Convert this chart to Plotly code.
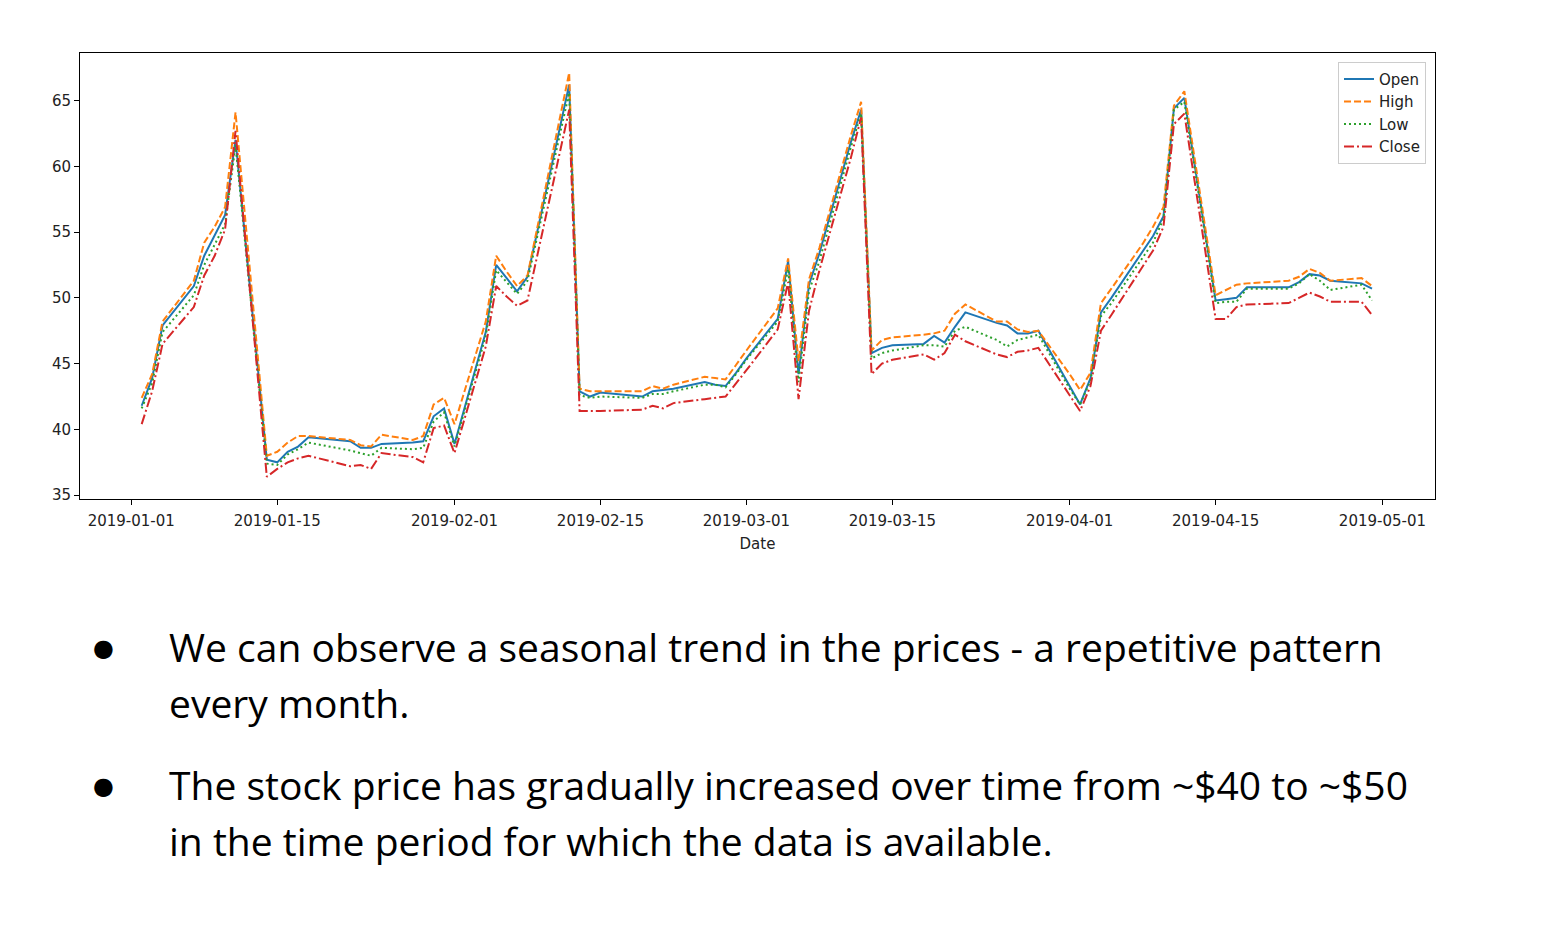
import plotly.graph_objects as go

W, H = 1560, 932

dates = [
    "2019-01-02", "2019-01-03", "2019-01-04", "2019-01-07", "2019-01-08", "2019-01-09", "2019-01-10", "2019-01-11",
    "2019-01-14", "2019-01-15", "2019-01-16", "2019-01-17", "2019-01-18", "2019-01-22", "2019-01-23", "2019-01-24",
    "2019-01-25", "2019-01-28", "2019-01-29", "2019-01-30", "2019-01-31", "2019-02-01", "2019-02-04", "2019-02-05",
    "2019-02-06", "2019-02-07", "2019-02-08", "2019-02-11", "2019-02-12", "2019-02-13", "2019-02-14", "2019-02-15",
    "2019-02-19", "2019-02-20", "2019-02-21", "2019-02-22", "2019-02-25", "2019-02-26", "2019-02-27", "2019-02-28",
    "2019-03-01", "2019-03-04", "2019-03-05", "2019-03-06", "2019-03-07", "2019-03-08", "2019-03-11", "2019-03-12",
    "2019-03-13", "2019-03-14", "2019-03-15", "2019-03-18", "2019-03-19", "2019-03-20", "2019-03-21", "2019-03-22",
    "2019-03-25", "2019-03-26", "2019-03-27", "2019-03-28", "2019-03-29", "2019-04-01", "2019-04-02", "2019-04-03",
    "2019-04-04", "2019-04-05", "2019-04-08", "2019-04-09", "2019-04-10", "2019-04-11", "2019-04-12", "2019-04-15",
    "2019-04-16", "2019-04-17", "2019-04-18", "2019-04-22", "2019-04-23", "2019-04-24", "2019-04-25", "2019-04-26",
    "2019-04-29", "2019-04-30",
]

open_ = [
    41.8, 43.9, 47.9, 50.9, 53.2, 54.8, 56.3, 62.0,
    37.7, 37.5, 38.3, 38.7, 39.4, 39.1, 38.6, 38.6,
    38.9, 39.0, 39.1, 41.0, 41.6, 38.9, 47.4, 52.5,
    51.5, 50.5, 51.6, 62.6, 66.2, 42.9, 42.5, 42.8,
    42.5, 42.9, 43.0, 43.1, 43.6, 43.4, 43.3, 44.3,
    45.4, 48.4, 52.8, 44.2, 51.0, 53.4, 61.8, 64.3,
    45.8, 46.2, 46.4, 46.5, 47.1, 46.6, 47.8, 48.9,
    48.1, 47.9, 47.3, 47.3, 47.5, 43.3, 41.9, 43.9,
    48.9, 50.0, 53.5, 54.7, 56.2, 64.4, 65.2, 49.8,
    49.9, 50.0, 50.8, 50.8, 51.2, 51.8, 51.7, 51.3,
    51.1, 50.7,
]

high = [
    42.4, 44.2, 48.2, 51.3, 54.2, 55.4, 56.9, 64.1,
    38.0, 38.3, 39.0, 39.5, 39.5, 39.2, 38.8, 38.7,
    39.6, 39.2, 39.5, 41.9, 42.4, 40.4, 48.2, 53.2,
    52.0, 50.9, 51.7, 63.3, 67.1, 43.1, 42.9, 42.9,
    42.9, 43.3, 43.1, 43.4, 44.0, 43.9, 43.8, 44.9,
    46.0, 49.2, 53.0, 45.2, 51.4, 53.8, 62.3, 64.9,
    46.0, 46.8, 47.0, 47.2, 47.3, 47.5, 48.8, 49.5,
    48.2, 48.2, 47.6, 47.4, 47.5, 44.2, 43.0, 44.3,
    49.6, 50.7, 54.1, 55.4, 56.9, 64.6, 65.7, 50.2,
    50.6, 51.0, 51.1, 51.3, 51.6, 52.2, 51.9, 51.3,
    51.5, 50.9,
]

low = [
    41.6, 43.5, 47.4, 50.2, 52.5, 54.0, 55.6, 61.6,
    37.4, 37.3, 38.1, 38.5, 39.0, 38.4, 38.2, 38.0,
    38.6, 38.5, 38.6, 40.6, 41.3, 38.7, 47.1, 52.1,
    51.2, 50.3, 51.3, 62.0, 65.6, 42.6, 42.4, 42.5,
    42.4, 42.7, 42.7, 42.9, 43.4, 43.4, 43.2, 44.2,
    45.3, 48.2, 52.2, 43.6, 50.5, 52.8, 61.4, 64.0,
    45.4, 45.8, 46.0, 46.4, 46.4, 46.3, 47.5, 47.8,
    46.8, 46.3, 46.8, 47.0, 47.2, 43.1, 41.9, 43.7,
    48.6, 49.6, 53.0, 54.2, 56.0, 64.3, 64.9, 49.6,
    49.7, 49.7, 50.7, 50.7, 51.1, 51.8, 51.3, 50.6,
    51.0, 49.8,
]

close = [
    40.4, 42.9, 46.5, 49.3, 51.7, 53.2, 55.2, 62.7,
    36.4, 37.0, 37.5, 37.8, 38.0, 37.2, 37.3, 37.0,
    38.2, 37.9, 37.5, 40.1, 40.3, 38.2, 46.3, 50.9,
    50.1, 49.4, 49.8, 60.7, 64.3, 41.4, 41.4, 41.4,
    41.5, 41.8, 41.6, 42.0, 42.3, 42.4, 42.5, 43.5,
    44.5, 47.6, 51.2, 42.3, 49.0, 52.1, 60.6, 63.7,
    44.2, 45.0, 45.3, 45.7, 45.3, 45.8, 47.2, 46.7,
    45.7, 45.5, 45.9, 46.0, 46.2, 42.6, 41.4, 43.3,
    47.5, 48.7, 52.3, 53.6, 55.4, 63.2, 64.0, 48.4,
    48.4, 49.3, 49.5, 49.6, 50.0, 50.4, 50.1, 49.7,
    49.7, 48.7,
]

x_tick_vals = ["2019-01-01", "2019-01-15", "2019-02-01", "2019-02-15", "2019-03-01",
               "2019-03-15", "2019-04-01", "2019-04-15", "2019-05-01"]
y_tick_vals = [35, 40, 45, 50, 55, 60, 65]

bullet_lines = [
    ["We can observe a seasonal trend in the prices - a repetitive pattern", "every month."],
    ["The stock price has gradually increased over time from ~$40 to ~$50",
     "in the time period for which the data is available."],
]

series = [
    ("Open", open_, "#1f77b4", "solid"),
    ("High", high, "#ff7f0e", "7px,3px"),
    ("Low", low, "#2ca02c", "2px,3px"),
    ("Close", close, "#d62728", "10px,3px,2px,3px"),
]

fig = go.Figure()
for name, vals, color, dash in series:
    fig.add_trace(go.Scatter(
        x=dates, y=vals, name=name, mode="lines",
        line=dict(color=color, width=2, dash=dash),
    ))

# plot area in pixels
L, R, T, B = 80, 1435, 53, 502

fig.update_layout(
    width=W, height=H,
    margin=dict(l=0, r=0, t=0, b=0),
    paper_bgcolor="white", plot_bgcolor="white",
    font=dict(family="DejaVu Sans", size=15, color="black"),
    showlegend=True,
    legend=dict(
        x=1426 / W, y=1 - 62 / H, xanchor="right", yanchor="top",
        bgcolor="rgba(255,255,255,0.8)", bordercolor="#cccccc", borderwidth=1,
        font=dict(family="DejaVu Sans", size=15, color="#222222"),
        itemwidth=30,
    ),
    xaxis=dict(
        domain=[L / W, R / W],
        type="date",
        range=["2018-12-27 02:00", "2019-05-06 01:00"],
        tickvals=x_tick_vals,
        ticktext=x_tick_vals,
        ticks="outside", ticklen=5, tickcolor="black",
        ticklabelstandoff=3,
        showline=True, linecolor="black", linewidth=1, mirror=True,
        showgrid=False, zeroline=False,
        tickfont=dict(family="DejaVu Sans", size=15, color="#222222"),
        title=dict(text="Date", font=dict(family="DejaVu Sans", size=15, color="#222222"), standoff=9),
    ),
    yaxis=dict(
        domain=[1 - B / H, 1 - T / H],
        range=[34.69, 68.63],
        tickvals=y_tick_vals,
        ticks="outside", ticklen=5, tickcolor="black",
        showline=True, linecolor="black", linewidth=1, mirror=True,
        showgrid=False, zeroline=False,
        tickfont=dict(family="DejaVu Sans", size=15, color="#222222"),
    ),
)

# bullet text
line_y = [[650, 706], [789, 845]]
for b, lines in enumerate(bullet_lines):
    fig.add_annotation(
        xref="paper", yref="paper", x=103 / W, y=1 - (line_y[b][0] + 1) / H,
        xanchor="center", yanchor="middle", showarrow=False,
        text="●", font=dict(family="DejaVu Sans", size=24, color="black"),
    )
    for i, t in enumerate(lines):
        fig.add_annotation(
            xref="paper", yref="paper", x=167 / W, y=1 - line_y[b][i] / H,
            xanchor="left", yanchor="middle", showarrow=False,
            text=t, font=dict(family="Open Sans", size=39, color="black"),
        )

fig.write_html("out.html")
